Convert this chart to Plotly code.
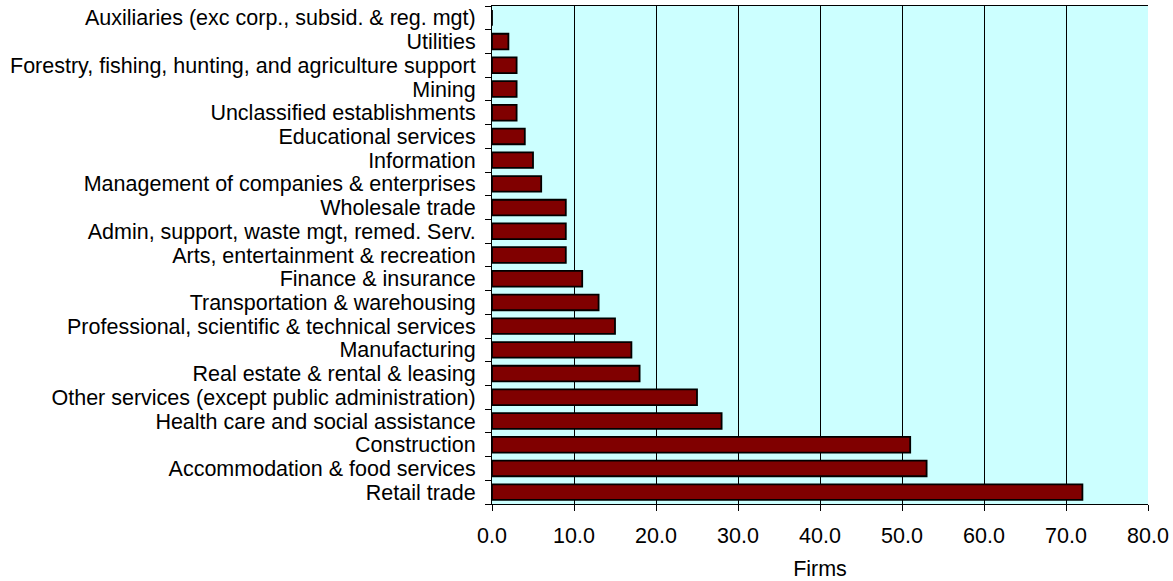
import plotly.graph_objects as go

categories = [
    "Auxiliaries (exc corp., subsid. & reg. mgt)",
    "Utilities",
    "Forestry, fishing, hunting, and agriculture support",
    "Mining",
    "Unclassified establishments",
    "Educational services",
    "Information",
    "Management of companies & enterprises",
    "Wholesale trade",
    "Admin, support, waste mgt, remed. Serv.",
    "Arts, entertainment & recreation",
    "Finance & insurance",
    "Transportation & warehousing",
    "Professional, scientific & technical services",
    "Manufacturing",
    "Real estate & rental & leasing",
    "Other services (except public administration)",
    "Health care and social assistance",
    "Construction",
    "Accommodation & food services",
    "Retail trade",
]
firms = [0, 2, 3, 3, 3, 4, 5, 6, 9, 9, 9, 11, 13, 15, 17, 18, 25, 28, 51, 53, 72]
x_ticks = [0, 10, 20, 30, 40, 50, 60, 70, 80]

font_family = "Liberation Sans, Arial, sans-serif"
fs = 21.5

fig = go.Figure(
    go.Bar(
        x=firms,
        y=categories,
        orientation="h",
        marker=dict(color="#800000", line=dict(color="black", width=1.8)),
        width=0.66,
    )
)

fig.update_layout(
    width=1173,
    height=581,
    margin=dict(l=492, r=25, t=6, b=77),
    paper_bgcolor="white",
    plot_bgcolor="#CCFFFF",
    font=dict(family=font_family, size=fs, color="black"),
    showlegend=False,
)

fig.update_xaxes(
    range=[0, 80],
    tickmode="array",
    tickvals=x_ticks,
    tickformat=".1f",
    ticks="outside",
    ticklen=6,
    tickcolor="black",
    showgrid=True,
    gridcolor="black",
    gridwidth=1,
    showline=True,
    linecolor="black",
    linewidth=1,
    mirror=True,
    zeroline=False,
    automargin=False,
    title=dict(text="Firms", font=dict(size=fs), standoff=16),
    tickfont=dict(size=fs),
    ticklabelstandoff=6,
)

fig.update_yaxes(
    categoryorder="array",
    categoryarray=categories,
    tickmode="array",
    tickvals=categories,
    autorange="reversed",
    ticks="outside",
    tickson="boundaries",
    ticklen=6,
    tickcolor="black",
    showline=True,
    linecolor="black",
    linewidth=1,
    showgrid=False,
    automargin=False,
    tickfont=dict(size=fs),
    ticklabelstandoff=11,
)

fig.write_html(
    "out.html",
    config={"displayModeBar": False},
    post_script="document.body.style.margin='0';",
)
